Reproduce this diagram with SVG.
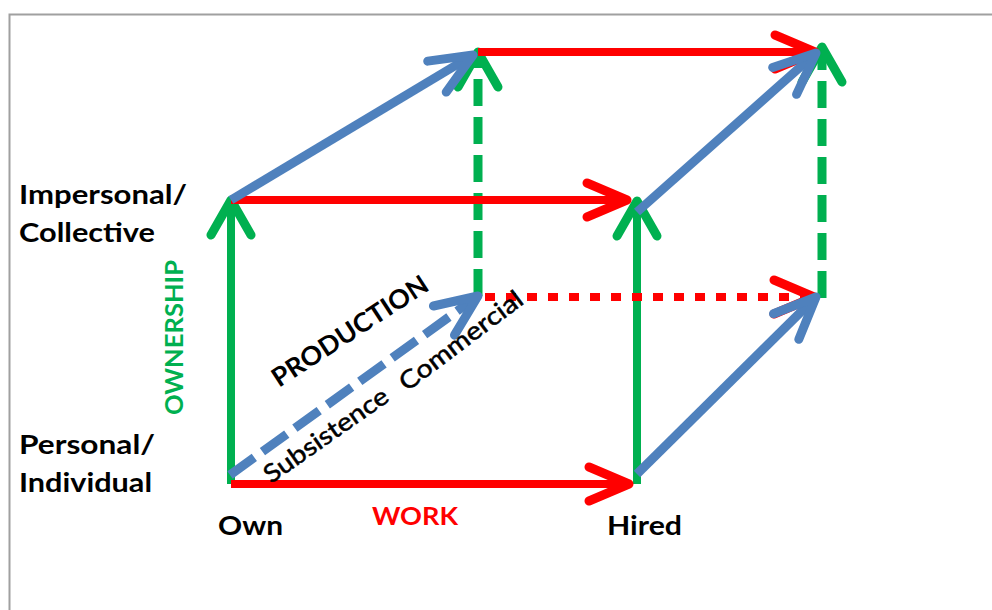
<svg xmlns="http://www.w3.org/2000/svg" width="992" height="610" viewBox="0 0 992 610">
  <style>
    .lbl { font-family: Lato, "Open Sans", "Liberation Sans", sans-serif; font-weight: 700; font-size: 26px; fill: #000; }
    .axis { font-family: Lato, "Open Sans", "Liberation Sans", sans-serif; font-weight: 700; font-size: 25px; }
    .sub { font-family: Lato, "Open Sans", "Liberation Sans", sans-serif; font-weight: 400; font-size: 25px; fill: #000; stroke: #000; stroke-width: 0.5; }
    .red { stroke: #FF0000; stroke-width: 8; fill: none; }
    .green { stroke: #00B050; stroke-width: 8; fill: none; }
    .blue { stroke: #4F81BD; stroke-width: 9; fill: none; }
    .dash-g { stroke-dasharray: 27 11; stroke-width: 9; }
    .dot-r { stroke-dasharray: 10 11; }
    .dash-b { stroke-dasharray: 30 10; }
  </style>
  <defs>
    <marker id="ah-red" markerUnits="userSpaceOnUse" orient="auto" refX="0" refY="0" markerWidth="60" markerHeight="60" viewBox="-50 -30 60 60" overflow="visible">
      <path d="M-40,-17 L0,0 L-40,17" fill="none" stroke="#FF0000" stroke-width="9" stroke-linecap="round" stroke-linejoin="round"/>
    </marker>
    <marker id="ah-green" markerUnits="userSpaceOnUse" orient="auto" refX="0" refY="0" markerWidth="60" markerHeight="60" viewBox="-50 -30 60 60" overflow="visible">
      <path d="M-35,-20 L0,0 L-35,20" fill="none" stroke="#00B050" stroke-width="9" stroke-linecap="round" stroke-linejoin="round"/>
    </marker>
    <marker id="ah-blue" markerUnits="userSpaceOnUse" orient="auto" refX="0" refY="0" markerWidth="60" markerHeight="60" viewBox="-50 -30 60 60" overflow="visible">
      <path d="M-42,-18 L0,0 L-42,18" fill="none" stroke="#4F81BD" stroke-width="9" stroke-linecap="round" stroke-linejoin="round"/>
    </marker>
  </defs>

  <rect id="frame" x="9.5" y="14.5" width="1000" height="700" fill="#fff" stroke="#A0A0A0" stroke-width="2"/>

  <g id="connectors">
    <!-- ownership (green) -->
    <path class="green dash-g" d="M478,296 L478,52" marker-end="url(#ah-green)"/>
    <path class="green dash-g" d="M822,298 L822,47" marker-end="url(#ah-green)"/>
    <path class="green" d="M231,484 L231,200" marker-end="url(#ah-green)"/>
    <path class="green" d="M637,484 L637,201" marker-end="url(#ah-green)"/>
    <!-- work (red) -->
    <path class="red dot-r" d="M485,297 L814,297" marker-end="url(#ah-red)"/>
    <path class="red" d="M478,52 L815,52" marker-end="url(#ah-red)"/>
    <path class="red" d="M231,200 L627,200" marker-end="url(#ah-red)"/>
    <path class="red" d="M231,484 L629,484" marker-end="url(#ah-red)"/>
    <!-- production (blue) -->
    <path class="blue dash-b" d="M230,475 L478,296" marker-end="url(#ah-blue)"/>
    <path class="blue" d="M231,200 L473,55" marker-end="url(#ah-blue)"/>
    <path class="blue" d="M637,212 L816,53" marker-end="url(#ah-blue)"/>
    <path class="blue" d="M637,474 L816,297" marker-end="url(#ah-blue)"/>
  </g>

  <g id="label-impersonal">
    <text class="lbl" x="19" y="204" textLength="168" lengthAdjust="spacingAndGlyphs">Impersonal/</text>
    <text class="lbl" x="19" y="242" textLength="136" lengthAdjust="spacingAndGlyphs">Collective</text>
  </g>
  <g id="label-personal">
    <text class="lbl" x="19" y="454" textLength="136" lengthAdjust="spacingAndGlyphs">Personal/</text>
    <text class="lbl" x="19" y="492" textLength="133" lengthAdjust="spacingAndGlyphs">Individual</text>
  </g>
  <g id="label-own">
    <text class="lbl" x="218" y="535" textLength="65" lengthAdjust="spacingAndGlyphs">Own</text>
  </g>
  <g id="label-hired">
    <text class="lbl" x="607" y="535" textLength="75" lengthAdjust="spacingAndGlyphs">Hired</text>
  </g>
  <g id="label-work">
    <text class="axis" x="372" y="525" fill="#FF0000" textLength="86" lengthAdjust="spacingAndGlyphs">WORK</text>
  </g>
  <g id="label-ownership">
    <text class="axis" transform="translate(183,415) rotate(-90)" x="0" y="0" fill="#00B050" textLength="155" lengthAdjust="spacingAndGlyphs">OWNERSHIP</text>
  </g>
  <g id="label-production">
    <text class="lbl" transform="translate(279,388) rotate(-33)" x="0" y="0" font-size="27" textLength="181" lengthAdjust="spacingAndGlyphs">PRODUCTION</text>
  </g>
  <g id="label-subsistence">
    <text class="sub" transform="translate(271,484) rotate(-35)" x="0" y="0" textLength="146" lengthAdjust="spacingAndGlyphs">Subsistence</text>
  </g>
  <g id="label-commercial">
    <text class="sub" transform="translate(407,392) rotate(-37)" x="0" y="0" textLength="148" lengthAdjust="spacingAndGlyphs">Commercial</text>
  </g>
</svg>
